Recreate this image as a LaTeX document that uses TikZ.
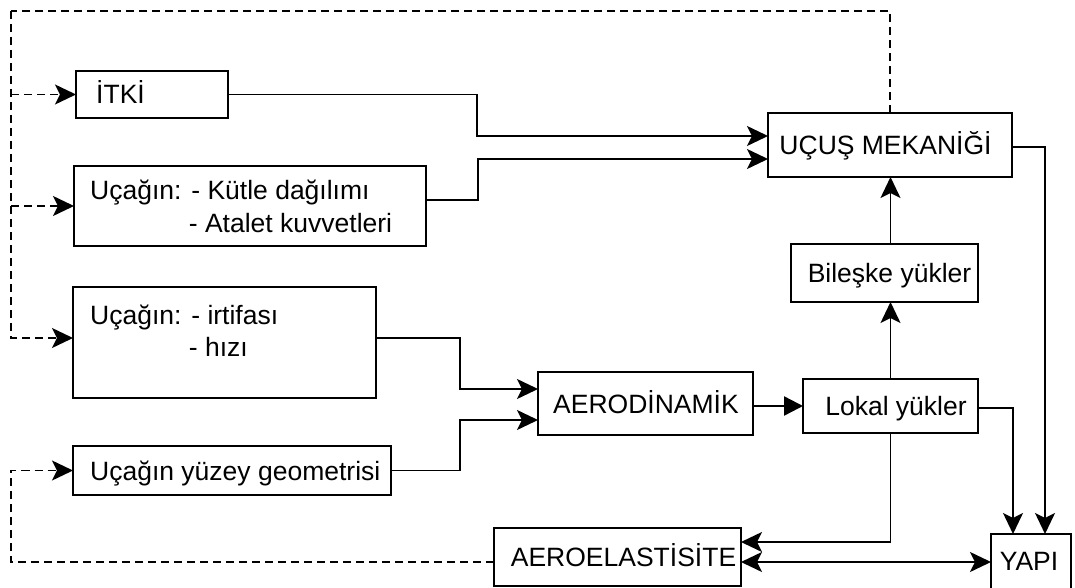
\documentclass[tikz,border=0pt]{standalone}
\usepackage{fontspec}
\setmainfont{Liberation Sans}
\usetikzlibrary{arrows.meta,calc}
\begin{document}
\begin{tikzpicture}[x=1pt,y=-1pt,
  box/.style={draw,line width=2.2pt,inner sep=0pt,outer sep=0pt},
  lbl/.style={inner sep=0pt,font=\fontsize{26.5}{32}\selectfont,anchor=base},
  conn/.style={line width=1.7pt},
  tip/.tip={Stealth[length=21pt,width=20pt,inset=5pt]},
  arr/.style={conn,-tip},
  darr/.style={arr,dash pattern=on 8pt off 5pt},
  dline/.style={conn,dash pattern=on 8pt off 5pt},
  tarr/.style={line width=2.4pt,-{Triangle[length=19pt,width=19pt]}},
  biarr/.style={conn,tip-tip}
]
\useasboundingbox (0,0) rectangle (1075,588);

% boxes
\node[box,minimum width=152pt,minimum height=47pt] (itki) at (152,94.5) {};
\node[box,minimum width=352pt,minimum height=80pt] (kutle) at (250,206) {};
\node[box,minimum width=303pt,minimum height=111pt] (irtifa) at (224.5,342.5) {};
\node[box,minimum width=318pt,minimum height=49pt] (yuzey) at (232,470.5) {};
\node[box,minimum width=215pt,minimum height=63pt] (aero) at (645.5,403.5) {};
\node[box,minimum width=175pt,minimum height=54pt] (lokal) at (890.5,406) {};
\node[box,minimum width=187pt,minimum height=58pt] (bileske) at (884.5,273) {};
\node[box,minimum width=244pt,minimum height=64pt] (ucus) at (890,145) {};
\node[box,minimum width=247pt,minimum height=58pt] (aeroel) at (617.5,557) {};
\node[box,minimum width=80pt,minimum height=56pt] (yapi) at (1031,562) {};

% texts
\node[lbl,anchor=base west] (titki) at (96,104) {İTKİ};
\node[lbl,anchor=base west] (tkutle1) at (90,199) {Uçağın: - Kütle dağılımı};
\node[lbl,anchor=base west] (tkutle2) at (188.7,232) {- Atalet kuvvetleri};
\node[lbl,anchor=base west] (tirtifa1) at (90,324) {Uçağın: - irtifası};
\node[lbl,anchor=base west] (tirtifa2) at (188.7,356) {- hızı};
\node[lbl,anchor=base west] (tyuzey) at (90,480) {Uçağın yüzey geometrisi};
\node[lbl] (taero) at (646,413) {AERODİNAMİK};
\node[lbl] (tlokal) at (896,415.5) {Lokal yükler};
\node[lbl] (tbileske) at (889.5,282.5) {Bileşke yükler};
\node[lbl] (tucus) at (885.5,154.5) {UÇUŞ MEKANİĞİ};
\node[lbl] (taeroel) at (623.5,566.5) {AEROELASTİSİTE};
\node[lbl] (tyapi) at (1029,570.5) {YAPI};

% feedback dashed lines
\coordinate (fbL) at (11,11);
\coordinate (fbB) at (11,562);
\draw[dline] (ucus.north) |- (fbL);
\draw[darr] (fbL) |- ($(irtifa.west)+(0,-4.5)$);
\draw[darr] (fbL |- itki.west) -- (itki.west);
\draw[darr] (fbL |- kutle.west) -- (kutle.west);
\draw[darr] ($(aeroel.west)+(0,5)$) -- (fbB) |- (yuzey.west);

% connectors
\draw[arr] (itki.east) -- ++(249,0) |- ($(ucus.west)+(0,-9)$);
\draw[arr] ($(kutle.east)+(0,-6)$) -- ++(52,0) |- ($(ucus.west)+(0,14)$);
\draw[arr] ($(irtifa.east)+(0,-4.5)$) -- ++(84,0) |- ($(aero.west)+(0,-14.5)$);
\draw[arr] (yuzey.east) -- ++(69,0) |- ($(aero.west)+(0,16.5)$);
\draw[tarr] (aero.east |- lokal.west) -- (lokal.west);
\draw[arr] (lokal.north) -- (lokal.north |- bileske.south);
\draw[arr] (lokal.north |- bileske.north) -- (lokal.north |- ucus.south);
\draw[arr] ($(ucus.east)+(0,2)$) -| ($(yapi.north)+(14,0)$);
\draw[arr] ($(lokal.east)+(0,2)$) -| ($(yapi.north)+(-18,0)$);
\draw[arr] (lokal.south) |- ($(aeroel.east)+(0,-15)$);
\draw[biarr] (aeroel.east |- yapi.west) -- (yapi.west);
\end{tikzpicture}
\end{document}
